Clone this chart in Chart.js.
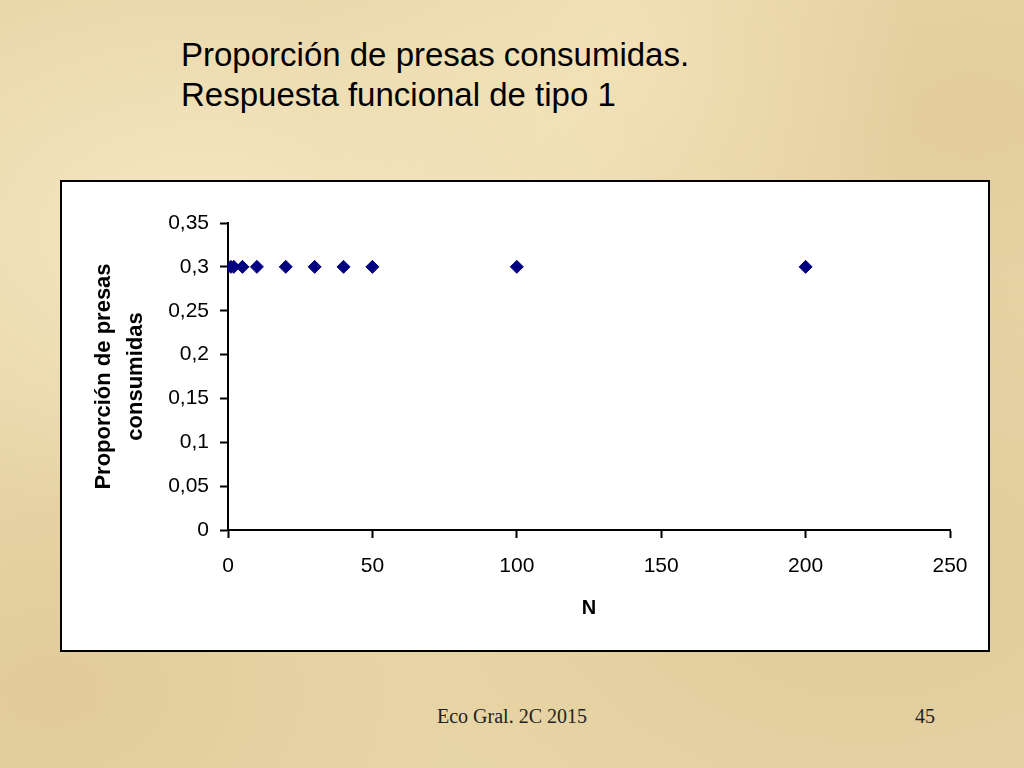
<!DOCTYPE html>
<html>
<head>
<meta charset="utf-8">
<script src="https://cdn.jsdelivr.net/npm/chart.js@4/dist/chart.umd.min.js"></script>
<style>
  body {
    margin: 0;
    width: 1024px;
    height: 768px;
    overflow: hidden;
    position: relative;
    background: #e8d5a6;
    background-image:
      radial-gradient(ellipse at 20% 30%, rgba(255,246,218,0.55), transparent 40%),
      radial-gradient(ellipse at 85% 75%, rgba(205,175,125,0.3), transparent 40%),
      radial-gradient(ellipse at 60% 8%, rgba(255,242,205,0.45), transparent 35%),
      radial-gradient(ellipse at 5% 90%, rgba(210,180,130,0.3), transparent 30%),
      radial-gradient(ellipse at 95% 15%, rgba(215,185,135,0.3), transparent 30%);
  }
  #title {
    position: absolute;
    left: 181px;
    top: 35px;
    font-family: "Liberation Sans", Arial, sans-serif;
    font-size: 33px;
    line-height: 40px;
    color: #000;
  }
  #box {
    position: absolute;
    left: 60px;
    top: 180px;
    width: 926px;
    height: 468px;
    border: 2px solid #000;
    background: #fff;
  }
  .foot {
    position: absolute;
    top: 705px;
    font-family: "Liberation Serif", "Times New Roman", serif;
    font-size: 20px;
    color: #222;
  }
</style>
</head>
<body>
<div id="title">Proporción de presas consumidas.<br>Respuesta funcional de tipo 1</div>
<div id="box"><canvas id="chart" width="926" height="468"></canvas></div>
<div class="foot" style="left:437px">Eco Gral. 2C 2015</div>
<div class="foot" style="left:915px">45</div>
<script>
// data
const nValues = [1, 2, 5, 10, 20, 30, 40, 50, 100, 200];
const proportions = [0.3, 0.3, 0.3, 0.3, 0.3, 0.3, 0.3, 0.3, 0.3, 0.3];
const xTicks = [0, 50, 100, 150, 200, 250];
const yTicks = [0, 0.05, 0.1, 0.15, 0.2, 0.25, 0.3, 0.35];

const points = nValues.map((n, i) => ({ x: n, y: proportions[i] }));
const tickFont = { family: "'Liberation Sans', Arial, sans-serif", size: 21 };
const titleFont = { family: "'Liberation Sans', Arial, sans-serif", size: 22, weight: 'bold' };

new Chart(document.getElementById('chart'), {
  type: 'scatter',
  data: {
    datasets: [{
      data: points,
      pointStyle: 'rectRot',
      pointRadius: 6.5,
      pointHoverRadius: 6.5,
      backgroundColor: '#000080',
      borderColor: '#000080'
    }]
  },
  options: {
    responsive: false,
    animation: false,
    events: [],
    layout: { padding: { left: 26, right: 38, top: 41, bottom: 0 } },
    plugins: { legend: { display: false }, tooltip: { enabled: false } },
    scales: {
      x: {
        type: 'linear',
        min: 0,
        max: 250,
        afterBuildTicks: axis => { axis.ticks = xTicks.map(v => ({ value: v })); },
        afterFit: axis => { axis.height = 468 - 348; },
        border: { color: '#000', width: 2 },
        grid: { drawOnChartArea: false, color: '#000', tickLength: 8, tickWidth: 2 },
        ticks: { color: '#000', font: tickFont, padding: 16 },
        title: {
          display: true,
          text: 'N',
          color: '#000',
          font: { family: "'Liberation Sans', Arial, sans-serif", size: 20, weight: 'bold' },
          padding: { top: 0, bottom: 30 }
        }
      },
      y: {
        min: 0,
        max: 0.35,
        afterBuildTicks: axis => { axis.ticks = yTicks.map(v => ({ value: v })); },
        afterFit: axis => { axis.width = 166 - 26; },
        border: { color: '#000', width: 2 },
        grid: { drawOnChartArea: false, color: '#000', tickLength: 8, tickWidth: 2 },
        ticks: {
          color: '#000',
          font: tickFont,
          padding: 11,
          callback: v => String(v).replace('.', ',')
        },
        title: {
          display: true,
          text: ['Proporción de presas', 'consumidas'],
          color: '#000',
          font: { ...titleFont, lineHeight: 1.45 },
          padding: 0
        }
      }
    }
  }
});
</script>
</body>
</html>
